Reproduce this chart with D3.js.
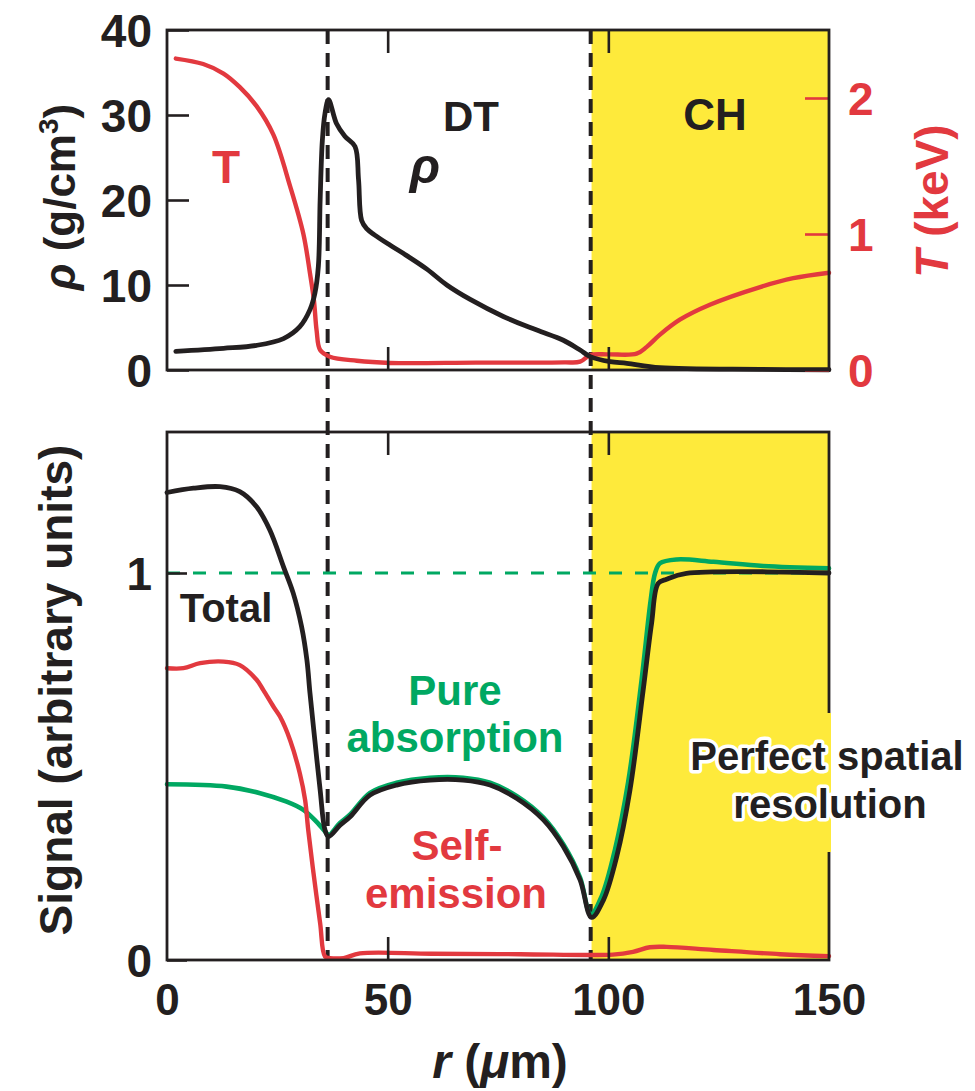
<!DOCTYPE html>
<html>
<head>
<meta charset="utf-8">
<script src="https://cdn.jsdelivr.net/npm/d3@7"></script>
<style>
  body { margin: 0; background: #fff; }
  svg { display: block; }
  text { font-family: 'Liberation Sans', Arial, Helvetica, sans-serif; font-weight: bold; }
</style>
</head>
<body>
<svg id="chart" width="975" height="1091"></svg>
<script>
// ---- Hydro profiles (top panel) ----
const rhoR   = [2, 12.8, 20.3, 26.4, 30.1, 32.4, 33.5, 34.3, 34.7, 35.2, 35.8, 36.6, 38.4, 40.3, 42.6, 43.4, 44.1, 45.3, 47, 50.5, 53.6, 58.8, 63.4, 68.7, 76.2, 83.8, 89.8, 93.6, 95.9, 100.4, 104.2, 111.7, 134.4, 150];
const rhoVal = [2.2, 2.55, 2.9, 3.7, 5.1, 7.1, 9, 12.2, 20, 27, 30.2, 31.8, 29, 27.5, 26.3, 22.4, 17.6, 16.6, 15.9, 14.7, 13.7, 11.9, 10.0, 8.3, 6.3, 4.7, 3.5, 2.35, 1.57, 0.98, 0.78, 0.27, 0.08, 0.03];

const tempR   = [2, 8.2, 12.8, 16.5, 20.3, 24.1, 27.9, 30.9, 32.4, 33.3, 33.9, 34.7, 36.9, 43, 50.5, 70, 90, 93.6, 95.9, 100, 106.4, 108.7, 111.7, 116.2, 123, 134.4, 141.9, 150];
const tempVal = [2.29, 2.25, 2.18, 2.08, 1.94, 1.73, 1.35, 1.00, 0.71, 0.51, 0.29, 0.147, 0.098, 0.068, 0.052, 0.054, 0.056, 0.061, 0.11, 0.115, 0.12, 0.17, 0.26, 0.37, 0.48, 0.61, 0.675, 0.715];

// ---- Synthetic signals (bottom panel) ----
const totalR   = [0, 6, 12, 16.5, 20.3, 23.3, 26.4, 28.6, 30.5, 31.7, 32.4, 33.5, 34.7, 35.8, 36.6, 39.2, 41.5, 46, 52, 59.6, 67.1, 73.2, 79.2, 85.3, 89.8, 93.6, 96.2, 98.9, 101.9, 104.9, 107.9, 109.8, 111.3, 113.2, 117.7, 150];
const totalVal = [1.208, 1.219, 1.223, 1.210, 1.171, 1.111, 1.016, 0.948, 0.861, 0.775, 0.689, 0.568, 0.439, 0.336, 0.319, 0.348, 0.370, 0.426, 0.452, 0.465, 0.465, 0.452, 0.418, 0.362, 0.293, 0.207, 0.110, 0.155, 0.267, 0.439, 0.698, 0.870, 0.973, 0.984, 0.999, 1.0];

const absorbR   = [0, 13.5, 21.1, 27.1, 30.9, 33.9, 36.2, 36.6, 39.2, 41.5, 46, 52, 59.6, 67.1, 73.2, 79.2, 85.3, 89.8, 93.6, 96.0, 98.5, 101.5, 104.5, 107.5, 109.6, 110.6, 111.7, 115.5, 123.8, 135.1, 150];
const absorbVal = [0.454, 0.448, 0.431, 0.409, 0.388, 0.357, 0.327, 0.322, 0.354, 0.376, 0.432, 0.458, 0.471, 0.471, 0.458, 0.424, 0.368, 0.299, 0.213, 0.118, 0.165, 0.285, 0.46, 0.72, 0.93, 1.0, 1.025, 1.035, 1.029, 1.018, 1.012];

const emitR   = [0, 3.7, 7.5, 12.8, 16.5, 20.3, 21.8, 24.1, 25.6, 27.9, 30.1, 31.3, 32, 33.2, 34.7, 35.8, 36.9, 40, 43.7, 60, 80, 101, 105.6, 109.4, 113.2, 123.8, 138.9, 150];
const emitVal = [0.754, 0.754, 0.767, 0.771, 0.762, 0.724, 0.698, 0.655, 0.629, 0.568, 0.482, 0.413, 0.336, 0.224, 0.095, 0.009, 0.005, 0.005, 0.017, 0.016, 0.015, 0.014, 0.021, 0.033, 0.034, 0.026, 0.015, 0.010];

// ---- Axes ticks and material interfaces ----
const rTicks      = [0, 50, 100, 150];
const rInnerTicks = [50, 100];
const rhoTicks    = [0, 10, 20, 30, 40];
const tempTicks   = [0, 1, 2];
const signalTicks = [0, 1];
const interfaces  = [36.4, 96.0];   // shell inner edge, DT/CH boundary
const chLayer     = [96.2, 150];    // CH ablator region
const referenceLevel = 1;

const BLACK = "#231F20", RED = "#E2393F", GREEN = "#00A862", YELLOW = "#FEEA3B";
const fmt = d3.format("d");

const svg = d3.select("#chart");

// ---- Scales ----
const x = d3.scaleLinear().domain([0, 150]).range([167, 829]);
const yRho = d3.scaleLinear().domain([0, 40]).range([370, 30]);
const yT = d3.scaleLinear().domain([0, 2.5]).range([370, 30]);
const ySig = d3.scaleLinear().domain([0, 1.3643]).range([960, 432]);

const zip = (a, b) => a.map((v, i) => [v, b[i]]);

// ---- CH layer shading ----
[yRho, ySig].forEach(ys => {
  svg.append("rect")
    .attr("x", x(chLayer[0])).attr("width", x(chLayer[1]) - x(chLayer[0]))
    .attr("y", ys.range()[1]).attr("height", ys.range()[0] - ys.range()[1])
    .attr("fill", YELLOW);
});

// ---- Interface markers spanning both panels ----
svg.selectAll(".iface").data(interfaces).join("line")
  .attr("class", "iface")
  .attr("x1", d => x(d)).attr("x2", d => x(d))
  .attr("y1", yRho.range()[1]).attr("y2", ySig.range()[0])
  .attr("stroke", BLACK).attr("stroke-width", 4)
  .attr("stroke-dasharray", "14,9");

// ---- Reference level in bottom panel ----
svg.append("line")
  .attr("x1", x(0)).attr("x2", x(150))
  .attr("y1", ySig(referenceLevel)).attr("y2", ySig(referenceLevel))
  .attr("stroke", GREEN).attr("stroke-width", 3.2)
  .attr("stroke-dasharray", "13,13");

// ---- Curves ----
function drawCurve(data, ys, color, width) {
  const line = d3.line().x(d => x(d[0])).y(d => ys(d[1])).curve(d3.curveCatmullRom.alpha(0.5));
  svg.append("path").datum(data)
    .attr("d", line)
    .attr("fill", "none").attr("stroke", color)
    .attr("stroke-width", width)
    .attr("stroke-linejoin", "round").attr("stroke-linecap", "round");
}
drawCurve(zip(tempR, tempVal), yT, RED, 4.4);
drawCurve(zip(rhoR, rhoVal), yRho, BLACK, 4.8);
drawCurve(zip(absorbR, absorbVal), ySig, GREEN, 4.6);
drawCurve(zip(totalR, totalVal), ySig, BLACK, 4.8);
drawCurve(zip(emitR, emitVal), ySig, RED, 4.4);

// ---- Axes ----
function styleAxis(g, color) {
  g.select(".domain").remove();
  g.selectAll(".tick line").attr("stroke", color).attr("stroke-width", 2.6);
  g.selectAll(".tick text").attr("fill", color)
    .style("font-family", "'Liberation Sans', Arial, Helvetica, sans-serif")
    .style("font-weight", "bold");
}

// top panel
svg.append("g").attr("transform", `translate(${x(0)},0)`)
  .call(d3.axisLeft(yRho).tickValues(rhoTicks).tickFormat(fmt).tickSizeInner(-22).tickSizeOuter(0).tickPadding(15))
  .call(g => styleAxis(g, BLACK))
  .call(g => g.selectAll(".tick text").style("font-size", "46px").attr("dy", "0.36em"));

svg.append("g").attr("transform", `translate(${x(150)},0)`)
  .call(d3.axisRight(yT).tickValues(tempTicks).tickFormat(fmt).tickSizeInner(-24).tickSizeOuter(0).tickPadding(19))
  .call(g => styleAxis(g, RED))
  .call(g => g.selectAll(".tick text").style("font-size", "46px").attr("dy", "0.36em"));

svg.append("g").attr("transform", `translate(0,${yRho(0)})`)
  .call(d3.axisBottom(x).tickValues(rInnerTicks).tickSizeInner(-23).tickSizeOuter(0).tickFormat(""))
  .call(g => styleAxis(g, BLACK));
svg.append("g").attr("transform", `translate(0,${yRho(40)})`)
  .call(d3.axisTop(x).tickValues(rInnerTicks).tickSizeInner(-23).tickSizeOuter(0).tickFormat(""))
  .call(g => styleAxis(g, BLACK));

// bottom panel
svg.append("g").attr("transform", `translate(${x(0)},0)`)
  .call(d3.axisLeft(ySig).tickValues(signalTicks).tickFormat(fmt).tickSizeInner(-20).tickSizeOuter(0).tickPadding(15))
  .call(g => styleAxis(g, BLACK))
  .call(g => g.selectAll(".tick text").style("font-size", "46px").attr("dy", "0.36em"));

svg.append("g").attr("transform", `translate(0,${ySig(0)})`)
  .call(d3.axisBottom(x).tickValues(rInnerTicks).tickSizeInner(-23).tickSizeOuter(0).tickFormat(""))
  .call(g => styleAxis(g, BLACK));
svg.append("g").attr("transform", `translate(0,${ySig(0)})`)
  .call(d3.axisBottom(x).tickValues(rTicks).tickFormat(fmt).tickSize(0).tickPadding(24))
  .call(g => styleAxis(g, BLACK))
  .call(g => g.selectAll(".tick text").style("font-size", "44px"));
svg.append("g").attr("transform", `translate(0,${ySig.range()[1]})`)
  .call(d3.axisTop(x).tickValues(rInnerTicks).tickSizeInner(-23).tickSizeOuter(0).tickFormat(""))
  .call(g => styleAxis(g, BLACK));

// ---- Panel frames ----
[yRho, ySig].forEach(ys => {
  svg.append("rect")
    .attr("x", x(0)).attr("width", x(150) - x(0))
    .attr("y", ys.range()[1]).attr("height", ys.range()[0] - ys.range()[1])
    .attr("fill", "none").attr("stroke", BLACK).attr("stroke-width", 2.8);
});

// ---- Axis titles ----
const rhoTitle = svg.append("text")
  .attr("transform", "translate(75,197) rotate(-90)")
  .attr("text-anchor", "middle").attr("font-size", 44).attr("fill", BLACK);
rhoTitle.append("tspan").attr("font-style", "italic").text("ρ");
rhoTitle.append("tspan").text(" (g/cm");
rhoTitle.append("tspan").attr("font-size", 28).attr("dy", -17).text("3");
rhoTitle.append("tspan").attr("dy", 17).text(")");

const tTitle = svg.append("text")
  .attr("transform", "translate(948,201) rotate(-90)")
  .attr("text-anchor", "middle").attr("font-size", 46).attr("fill", RED);
tTitle.append("tspan").attr("font-style", "italic").text("T");
tTitle.append("tspan").text(" (keV)");

svg.append("text")
  .attr("transform", "translate(72,690) rotate(-90)")
  .attr("text-anchor", "middle").attr("font-size", 46).attr("fill", BLACK)
  .text("Signal (arbitrary units)");

const rTitle = svg.append("text")
  .attr("x", 500).attr("y", 1078)
  .attr("text-anchor", "middle").attr("font-size", 48).attr("fill", BLACK);
rTitle.append("tspan").attr("font-style", "italic").text("r");
rTitle.append("tspan").text(" (");
rTitle.append("tspan").attr("font-style", "italic").text("μ");
rTitle.append("tspan").text("m)");

// ---- In-plot annotations ----
const note = (t, px, py, size, color, extra) => {
  const el = svg.append("text").attr("x", px).attr("y", py)
    .attr("text-anchor", "middle").attr("font-size", size).attr("fill", color).text(t);
  if (extra) extra(el);
  return el;
};
note("T", 226, 183, 46, RED);
note("DT", 471, 131, 42, BLACK);
note("ρ", 425, 183, 50, BLACK, el => el.attr("font-style", "italic"));
note("CH", 715, 130, 44, BLACK);
note("Total", 226, 622, 40, BLACK);
note("Pure", 455, 705, 42, GREEN);
note("absorption", 455, 752, 42, GREEN);
note("Self-", 457, 860, 42, RED);
note("emission", 456, 908, 42, RED);

// break in the right frame behind the halo label
svg.append("rect").attr("x", 826).attr("y", 713).attr("width", 5).attr("height", 139).attr("fill", YELLOW);

const halo = el => el.attr("stroke", "#fff").attr("stroke-width", 7)
  .attr("stroke-linejoin", "round").attr("paint-order", "stroke");
note("Perfect spatial", 827, 770, 40, BLACK, halo);
note("resolution", 830, 818, 40, BLACK, halo);
</script>
</body>
</html>
